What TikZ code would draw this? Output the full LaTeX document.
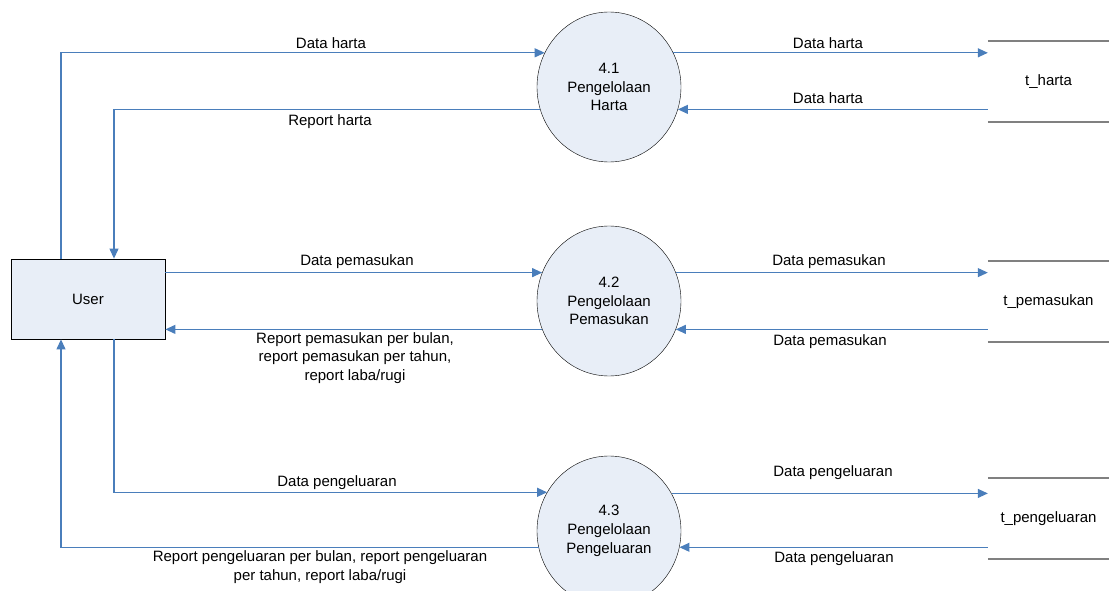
\documentclass[tikz,border=0pt]{standalone}
\usepackage{fontspec}
\setmainfont{Liberation Sans}
\usetikzlibrary{shapes.geometric, arrows.meta}
\definecolor{flowblue}{HTML}{4A7EBB}
\definecolor{procfill}{HTML}{E8EEF7}

\begin{document}
\begin{tikzpicture}[x = 1pt, y = -1pt,
	every node/.style = {font = \fontsize{15}{18.8}\selectfont, align = center},
	proc/.style = {ellipse, draw, thin, fill = procfill, inner sep = 0, minimum width = 144pt, minimum height = 150pt},
	ent/.style = {rectangle, draw, thick, fill = procfill, minimum width = 154pt, minimum height = 80pt},
	store/.style = {minimum width = 121pt, minimum height = 81pt, inner sep = 0},
	storeline/.style = {draw = gray, line width = 1.6pt},
	flow/.style = {flowblue, line width = 1.1pt, -{Triangle[length = 10pt, width = 9pt]}}]
	\useasboundingbox (0,0) rectangle (1109,591);
	% entitas dan proses
	\node [ent] (u) at (88,299) {User};
	\node [proc] (p41) at (609,87) {4.1\\Pengelolaan\\Harta};
	\node [proc] (p42) at (609,301) {4.2\\Pengelolaan\\Pemasukan};
	\node [proc] (p43) at (609,531) {4.3\\Pengelolaan\\Pengeluaran};
	% data store
	\node [store] (sharta) at (1048.5,81.5) {t\_harta};
	\node [store] (smasuk) at (1048.5,301.5) {t\_pemasukan};
	\node [store] (skeluar) at (1048.5,518.5) {t\_pengeluaran};
	\foreach \s in {sharta, smasuk, skeluar}
		\draw [storeline] (\s.north west) -- (\s.north east) (\s.south west) -- (\s.south east);
	% aliran user - proses
	\draw [flow] ([xshift=-27pt]u.north) |- (p41.152);
	\draw [flow] (p41.198) -| ([xshift=26pt]u.north);
	\draw [flow] (u.east |- p42.157) -- (p42.157);
	\draw [flow] (p42.203) -- (u.east |- p42.203);
	\draw [flow] ([xshift=26pt]u.south) |- (p43.148.5);
	\draw [flow] (p43.193.6) -| ([xshift=-27pt]u.south);
	% aliran proses - data store
	\draw [flow] (p41.28) -- (p41.28 -| sharta.west);
	\draw [flow] (p41.-18 -| sharta.west) -- (p41.-18);
	\draw [flow] (p42.23) -- (p42.23 -| smasuk.west);
	\draw [flow] (p42.-23 -| smasuk.west) -- (p42.-23);
	\draw [flow] (p43.31.5) -- (p43.31.5 -| skeluar.west);
	\draw [flow] (p43.-13.6 -| skeluar.west) -- (p43.-13.6);
	% label
	\node (l1) at (331,43) {Data harta};
	\node (l2) at (330,122) {Report harta};
	\node (l3) at (357,262) {Data pemasukan};
	\node (l4) at (355,358) {Report pemasukan per bulan,\\report pemasukan per tahun,\\report laba/rugi};
	\node (l5) at (337,483) {Data pengeluaran};
	\node (l6) at (320,567) {Report pengeluaran per bulan, report pengeluaran\\per tahun, report laba/rugi};
	\node (r1) at (828,43) {Data harta};
	\node (r2) at (828,98) {Data harta};
	\node (r3) at (829,262) {Data pemasukan};
	\node (r4) at (830,342) {Data pemasukan};
	\node (r5) at (833,473) {Data pengeluaran};
	\node (r6) at (834,559) {Data pengeluaran};
\end{tikzpicture}
\end{document}
